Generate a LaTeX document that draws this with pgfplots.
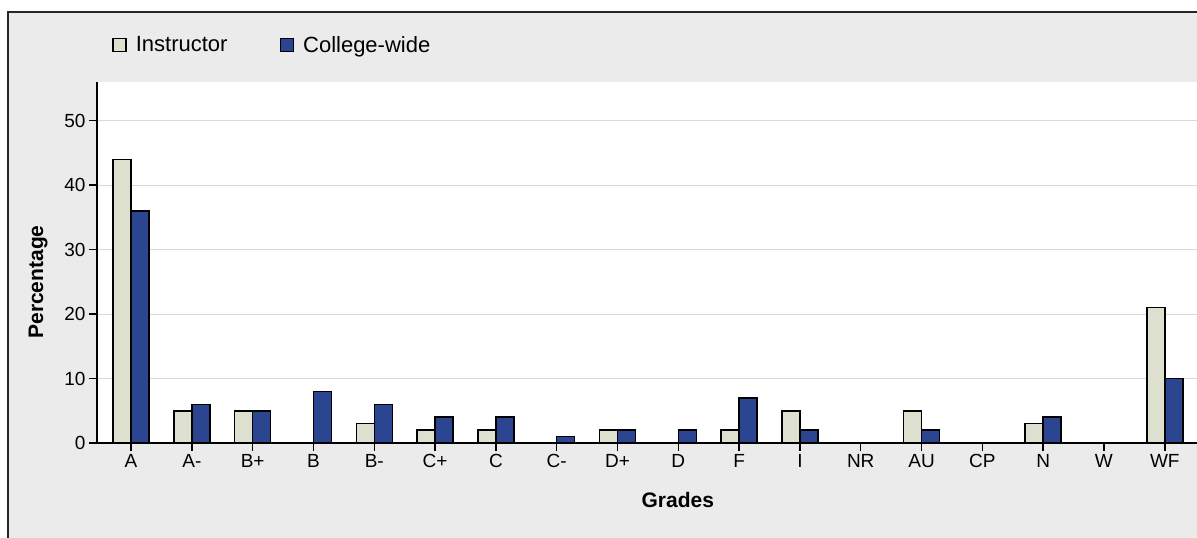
\documentclass[border=0pt]{standalone}
\usepackage{fontspec}
\setmainfont{Liberation Sans}
\usepackage{pgfplots}
\pgfplotsset{compat=1.18}
\definecolor{instr}{HTML}{DDE0CE}
\definecolor{coll}{HTML}{2C4590}
\definecolor{outerbg}{HTML}{EBEBEB}
\begin{document}
\begin{tikzpicture}[x=1pt,y=1pt]
\clip (0,0) rectangle (1197,538);
\fill[white] (0,0) rectangle (1197,538);
\fill[outerbg] (8,0) rectangle (1197,526);
\draw[line width=2.5pt, black!85] (8,0) -- (8,526) -- (1197,526);
\begin{axis}[
  at={(97pt,95pt)}, anchor=south west,
  scale only axis, width=1100pt, height=361pt,
  ybar=0pt, bar width=18pt,
  xmin=-0.56, xmax=17.53, ymin=0, ymax=56,
  xtick={0,...,17},
  xticklabels={A,A-,B+,B,B-,C+,C,C-,D+,D,F,I,NR,AU,CP,N,W,WF},
  ytick={0,10,...,50},
  /pgf/number format/assume math mode=true,
  axis lines=left,
  axis line style={black, line width=2pt, -},
  ymajorgrids, grid style={gray!30, line width=0.8pt},
  major tick length=8pt, tick align=outside,
  tick style={black, line width=1.5pt},
  ticklabel style={font=\fontsize{19}{19}\selectfont},
  ylabel={Percentage}, xlabel={Grades},
  label style={font=\bfseries\fontsize{21}{21}\selectfont},
  ylabel style={at={(axis description cs:-0.0536,0.446)}, anchor=center},
  xlabel style={at={(axis description cs:0.528,-0.158)}, anchor=center},
  axis background/.style={fill=white},
  legend columns=2,
  legend style={draw=none, fill=none, at={(axis description cs:0.0136,1.1025)}, anchor=west,
    font=\fontsize{22}{22}\selectfont, inner sep=0pt,
    /tikz/every even column/.append style={column sep=50pt}},
  legend image code/.code={\draw[opacity=0] (0pt,0pt) -- (20pt,0pt); \draw[#1, draw=black, line width=1.8pt] (0pt,-6.5pt) rectangle (13pt,6.5pt);},
]
\addplot[fill=instr, draw=black, line width=1.5pt] coordinates {
(0,44) (1,5) (2,5) (3,0) (4,3) (5,2) (6,2) (7,0) (8,2) (9,0) (10,2) (11,5) (12,0) (13,5) (14,0) (15,3) (16,0) (17,21)};
\addplot[fill=coll, draw=black, line width=1.5pt] coordinates {
(0,36) (1,6) (2,5) (3,8) (4,6) (5,4) (6,4) (7,1) (8,2) (9,2) (10,7) (11,2) (12,0) (13,2) (14,0) (15,4) (16,0) (17,10)};
\legend{Instructor, College-wide}
\end{axis}
\end{tikzpicture}
\end{document}
